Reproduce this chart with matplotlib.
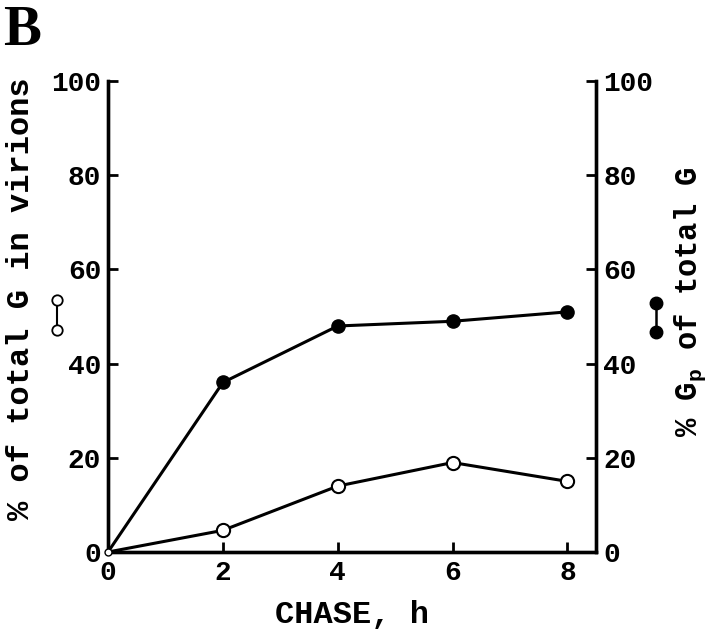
import matplotlib
matplotlib.use("Agg")
import matplotlib.pyplot as plt

# Data
chase_h = [0, 2, 4, 6, 8]
virion_pct = [0, 4.6, 14, 19, 15]      # open circles, left axis
gp_pct = [0, 36, 48, 49, 51]           # filled circles, right axis
y_ticks = [0, 20, 40, 60, 80, 100]

plt.rcParams["font.family"] = "Liberation Mono"
plt.rcParams["font.weight"] = "bold"
plt.rcParams["mathtext.fontset"] = "custom"
plt.rcParams["mathtext.rm"] = "Liberation Mono:bold"
plt.rcParams["mathtext.it"] = "Liberation Mono:bold"
plt.rcParams["mathtext.bf"] = "Liberation Mono:bold"

fig = plt.figure(figsize=(7.2, 6.29), dpi=100)
ax = fig.add_axes([0.150, 0.1224, 0.678, 0.7486])
ax2 = ax.twinx()

lw = 2.2
ax.plot(chase_h, virion_pct, color="black", lw=lw, marker="o", ms=9.5,
        mfc="white", mec="black", mew=1.5, markevery=slice(1, None), zorder=3)
ax2.plot(chase_h, gp_pct, color="black", lw=lw, marker="o", ms=9.5,
         mfc="black", mec="black", markevery=slice(1, None), zorder=3)
ax2.plot(chase_h[0], gp_pct[0], marker="o", ms=5, mfc="white", mec="black",
         mew=1, clip_on=False, zorder=4)

for a in (ax, ax2):
    a.set_xlim(0, 8.5)
    a.set_ylim(0, 100)
    a.spines["top"].set_visible(False)
    for s in a.spines.values():
        s.set_linewidth(2.4)
    a.tick_params(direction="in", length=7, width=2, labelsize=20, pad=5)
    a.set_yticks(y_ticks)

ax.set_xticks(chase_h)
ax.tick_params(axis="x", pad=6)

ax.set_xlabel("CHASE, h", fontsize=23, fontweight="bold")
ax.xaxis.set_label_coords(0.5, -0.102)
ax.set_ylabel("% of total G in virions", fontsize=23, fontweight="bold")
ax.yaxis.set_label_coords(-0.148, 0.539)
ax2.set_ylabel(r"% G$_{\mathrm{p}}$ of total G", fontsize=22,
               fontweight="bold", rotation=90)
ax2.yaxis.set_label_coords(1.156, 0.531)

# symbol keys beside axis labels
ax.plot([-0.89, -0.89], [53.5, 47.1], color="black", lw=1.5, marker="o",
        ms=7.5, mfc="white", mec="black", mew=1.3, clip_on=False)
ax2.plot([9.55, 9.55], [52.9, 46.7], color="black", lw=1.8, marker="o",
         ms=9, mfc="black", mec="black", clip_on=False)

fig.text(0.004, 0.928, "B", fontsize=41, fontweight="bold",
         family="Liberation Serif")

fig.savefig("out.png", dpi=100)
